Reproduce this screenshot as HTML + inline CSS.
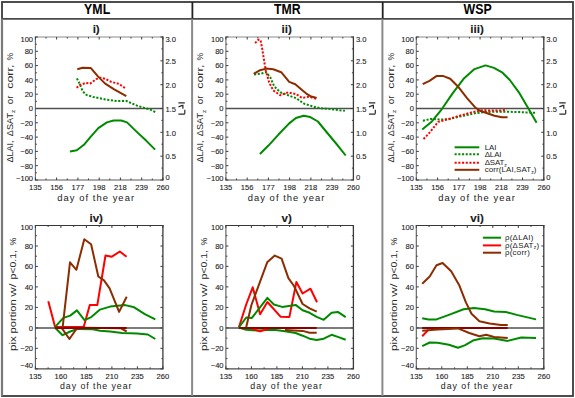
<!DOCTYPE html>
<html><head><meta charset="utf-8"><style>
html,body{margin:0;padding:0;background:#fff;width:575px;height:398px;overflow:hidden}
svg{display:block}
</style></head><body>
<svg width="575" height="398" viewBox="0 0 575 398" font-family='"Liberation Sans", sans-serif'>
<rect width="575" height="398" fill="#fff"/>
<rect x="2" y="2" width="571" height="394" fill="none" stroke="#3a3a3a" stroke-width="1.8"/>
<line x1="2" y1="18.8" x2="573" y2="18.8" stroke="#4a4a4a" stroke-width="1.8"/>
<line x1="192.4" y1="2" x2="192.4" y2="18.8" stroke="#222" stroke-width="1.8"/>
<line x1="192.1" y1="18.8" x2="192.1" y2="396" stroke="#8a8a8a" stroke-width="2"/>
<line x1="382.7" y1="2" x2="382.7" y2="18.8" stroke="#222" stroke-width="1.8"/>
<line x1="382.4" y1="18.8" x2="382.4" y2="396" stroke="#8a8a8a" stroke-width="2"/>
<line x1="2" y1="18.8" x2="2" y2="396" stroke="#7a7a7a" stroke-width="2.2"/>
<text x="84.10" y="14.2" font-size="14" font-weight="bold" textLength="26.1" lengthAdjust="spacingAndGlyphs" fill="#000">YML</text>
<text x="274.10" y="14.2" font-size="14" font-weight="bold" textLength="26.6" lengthAdjust="spacingAndGlyphs" fill="#000">TMR</text>
<text x="463.60" y="14.2" font-size="14" font-weight="bold" textLength="28.2" lengthAdjust="spacingAndGlyphs" fill="#000">WSP</text>
<g font-family='"Liberation Sans", sans-serif' fill="#1a1a1a" stroke="#1a1a1a" stroke-width="0.1">
<line x1="34.9" y1="37.0" x2="163.5" y2="37.0" stroke="#8a8a8a" stroke-width="1.0"/>
<line x1="35.4" y1="36.5" x2="35.4" y2="180.5" stroke="#6a6a6a" stroke-width="1.1"/>
<line x1="162.9" y1="36.5" x2="162.9" y2="180.5" stroke="#3a3a3a" stroke-width="1.3"/>
<line x1="34.9" y1="180.0" x2="163.5" y2="180.0" stroke="#5a5a5a" stroke-width="1.1"/>
<line x1="35.4" y1="180.0" x2="37.9" y2="180.0" stroke="#3c3c3c" stroke-width="1"/>
<text x="33.1" y="180.8" font-size="7.6" text-anchor="end" font-weight="normal" >&#8722;100</text>
<line x1="35.4" y1="172.8" x2="36.9" y2="172.8" stroke="#3c3c3c" stroke-width="1"/>
<line x1="35.4" y1="165.7" x2="37.9" y2="165.7" stroke="#3c3c3c" stroke-width="1"/>
<text x="33.1" y="168.5" font-size="7.6" text-anchor="end" font-weight="normal" >&#8722;80</text>
<line x1="35.4" y1="158.6" x2="36.9" y2="158.6" stroke="#3c3c3c" stroke-width="1"/>
<line x1="35.4" y1="151.4" x2="37.9" y2="151.4" stroke="#3c3c3c" stroke-width="1"/>
<text x="33.1" y="154.2" font-size="7.6" text-anchor="end" font-weight="normal" >&#8722;60</text>
<line x1="35.4" y1="144.2" x2="36.9" y2="144.2" stroke="#3c3c3c" stroke-width="1"/>
<line x1="35.4" y1="137.1" x2="37.9" y2="137.1" stroke="#3c3c3c" stroke-width="1"/>
<text x="33.1" y="139.9" font-size="7.6" text-anchor="end" font-weight="normal" >&#8722;40</text>
<line x1="35.4" y1="129.9" x2="36.9" y2="129.9" stroke="#3c3c3c" stroke-width="1"/>
<line x1="35.4" y1="122.8" x2="37.9" y2="122.8" stroke="#3c3c3c" stroke-width="1"/>
<text x="33.1" y="125.6" font-size="7.6" text-anchor="end" font-weight="normal" >&#8722;20</text>
<line x1="35.4" y1="115.6" x2="36.9" y2="115.6" stroke="#3c3c3c" stroke-width="1"/>
<line x1="35.4" y1="108.5" x2="37.9" y2="108.5" stroke="#3c3c3c" stroke-width="1"/>
<text x="33.1" y="111.3" font-size="7.6" text-anchor="end" font-weight="normal" >0</text>
<line x1="35.4" y1="101.3" x2="36.9" y2="101.3" stroke="#3c3c3c" stroke-width="1"/>
<line x1="35.4" y1="94.2" x2="37.9" y2="94.2" stroke="#3c3c3c" stroke-width="1"/>
<text x="33.1" y="97.0" font-size="7.6" text-anchor="end" font-weight="normal" >20</text>
<line x1="35.4" y1="87.0" x2="36.9" y2="87.0" stroke="#3c3c3c" stroke-width="1"/>
<line x1="35.4" y1="79.9" x2="37.9" y2="79.9" stroke="#3c3c3c" stroke-width="1"/>
<text x="33.1" y="82.7" font-size="7.6" text-anchor="end" font-weight="normal" >40</text>
<line x1="35.4" y1="72.8" x2="36.9" y2="72.8" stroke="#3c3c3c" stroke-width="1"/>
<line x1="35.4" y1="65.6" x2="37.9" y2="65.6" stroke="#3c3c3c" stroke-width="1"/>
<text x="33.1" y="68.4" font-size="7.6" text-anchor="end" font-weight="normal" >60</text>
<line x1="35.4" y1="58.5" x2="36.9" y2="58.5" stroke="#3c3c3c" stroke-width="1"/>
<line x1="35.4" y1="51.3" x2="37.9" y2="51.3" stroke="#3c3c3c" stroke-width="1"/>
<text x="33.1" y="54.1" font-size="7.6" text-anchor="end" font-weight="normal" >80</text>
<line x1="35.4" y1="44.2" x2="36.9" y2="44.2" stroke="#3c3c3c" stroke-width="1"/>
<line x1="35.4" y1="37.0" x2="37.9" y2="37.0" stroke="#3c3c3c" stroke-width="1"/>
<text x="33.1" y="41.6" font-size="7.6" text-anchor="end" font-weight="normal" >100</text>
<line x1="35.4" y1="180.0" x2="35.4" y2="177.5" stroke="#3c3c3c" stroke-width="1"/>
<line x1="35.4" y1="37.0" x2="35.4" y2="39.5" stroke="#3c3c3c" stroke-width="1"/>
<line x1="46.0" y1="180.0" x2="46.0" y2="178.5" stroke="#3c3c3c" stroke-width="1"/>
<line x1="46.0" y1="37.0" x2="46.0" y2="38.5" stroke="#3c3c3c" stroke-width="1"/>
<text x="35.4" y="190.3" font-size="7.6" text-anchor="middle" font-weight="normal" >135</text>
<line x1="56.6" y1="180.0" x2="56.6" y2="177.5" stroke="#3c3c3c" stroke-width="1"/>
<line x1="56.6" y1="37.0" x2="56.6" y2="39.5" stroke="#3c3c3c" stroke-width="1"/>
<line x1="67.3" y1="180.0" x2="67.3" y2="178.5" stroke="#3c3c3c" stroke-width="1"/>
<line x1="67.3" y1="37.0" x2="67.3" y2="38.5" stroke="#3c3c3c" stroke-width="1"/>
<text x="56.6" y="190.3" font-size="7.6" text-anchor="middle" font-weight="normal" >156</text>
<line x1="77.9" y1="180.0" x2="77.9" y2="177.5" stroke="#3c3c3c" stroke-width="1"/>
<line x1="77.9" y1="37.0" x2="77.9" y2="39.5" stroke="#3c3c3c" stroke-width="1"/>
<line x1="88.5" y1="180.0" x2="88.5" y2="178.5" stroke="#3c3c3c" stroke-width="1"/>
<line x1="88.5" y1="37.0" x2="88.5" y2="38.5" stroke="#3c3c3c" stroke-width="1"/>
<text x="77.9" y="190.3" font-size="7.6" text-anchor="middle" font-weight="normal" >177</text>
<line x1="99.2" y1="180.0" x2="99.2" y2="177.5" stroke="#3c3c3c" stroke-width="1"/>
<line x1="99.2" y1="37.0" x2="99.2" y2="39.5" stroke="#3c3c3c" stroke-width="1"/>
<line x1="109.8" y1="180.0" x2="109.8" y2="178.5" stroke="#3c3c3c" stroke-width="1"/>
<line x1="109.8" y1="37.0" x2="109.8" y2="38.5" stroke="#3c3c3c" stroke-width="1"/>
<text x="99.2" y="190.3" font-size="7.6" text-anchor="middle" font-weight="normal" >198</text>
<line x1="120.4" y1="180.0" x2="120.4" y2="177.5" stroke="#3c3c3c" stroke-width="1"/>
<line x1="120.4" y1="37.0" x2="120.4" y2="39.5" stroke="#3c3c3c" stroke-width="1"/>
<line x1="131.0" y1="180.0" x2="131.0" y2="178.5" stroke="#3c3c3c" stroke-width="1"/>
<line x1="131.0" y1="37.0" x2="131.0" y2="38.5" stroke="#3c3c3c" stroke-width="1"/>
<text x="120.4" y="190.3" font-size="7.6" text-anchor="middle" font-weight="normal" >218</text>
<line x1="141.7" y1="180.0" x2="141.7" y2="177.5" stroke="#3c3c3c" stroke-width="1"/>
<line x1="141.7" y1="37.0" x2="141.7" y2="39.5" stroke="#3c3c3c" stroke-width="1"/>
<line x1="152.3" y1="180.0" x2="152.3" y2="178.5" stroke="#3c3c3c" stroke-width="1"/>
<line x1="152.3" y1="37.0" x2="152.3" y2="38.5" stroke="#3c3c3c" stroke-width="1"/>
<text x="141.7" y="190.3" font-size="7.6" text-anchor="middle" font-weight="normal" >239</text>
<line x1="162.9" y1="180.0" x2="162.9" y2="177.5" stroke="#3c3c3c" stroke-width="1"/>
<line x1="162.9" y1="37.0" x2="162.9" y2="39.5" stroke="#3c3c3c" stroke-width="1"/>
<text x="162.9" y="190.3" font-size="7.6" text-anchor="middle" font-weight="normal" >260</text>
<line x1="35.4" y1="108.5" x2="162.9" y2="108.5" stroke="#505050" stroke-width="1.5"/>
<text x="96.2" y="200.8" font-size="9.4" text-anchor="middle" font-weight="normal" letter-spacing="1.05" stroke="none">day of the year</text>
<line x1="162.9" y1="180.0" x2="160.4" y2="180.0" stroke="#3c3c3c" stroke-width="1"/>
<text x="165.4" y="180.3" font-size="7.6" text-anchor="start" font-weight="normal" fill="#222">0</text>
<line x1="162.9" y1="168.1" x2="161.4" y2="168.1" stroke="#3c3c3c" stroke-width="1"/>
<line x1="162.9" y1="156.2" x2="160.4" y2="156.2" stroke="#3c3c3c" stroke-width="1"/>
<text x="165.4" y="159.4" font-size="7.6" text-anchor="start" font-weight="normal" fill="#222">0.5</text>
<line x1="162.9" y1="144.2" x2="161.4" y2="144.2" stroke="#3c3c3c" stroke-width="1"/>
<line x1="162.9" y1="132.3" x2="160.4" y2="132.3" stroke="#3c3c3c" stroke-width="1"/>
<text x="165.4" y="135.5" font-size="7.6" text-anchor="start" font-weight="normal" fill="#222">1.0</text>
<line x1="162.9" y1="120.4" x2="161.4" y2="120.4" stroke="#3c3c3c" stroke-width="1"/>
<line x1="162.9" y1="108.5" x2="160.4" y2="108.5" stroke="#3c3c3c" stroke-width="1"/>
<text x="165.4" y="111.7" font-size="7.6" text-anchor="start" font-weight="normal" fill="#222">1.5</text>
<line x1="162.9" y1="96.6" x2="161.4" y2="96.6" stroke="#3c3c3c" stroke-width="1"/>
<line x1="162.9" y1="84.7" x2="160.4" y2="84.7" stroke="#3c3c3c" stroke-width="1"/>
<text x="165.4" y="87.9" font-size="7.6" text-anchor="start" font-weight="normal" fill="#222">2.0</text>
<line x1="162.9" y1="72.8" x2="161.4" y2="72.8" stroke="#3c3c3c" stroke-width="1"/>
<line x1="162.9" y1="60.8" x2="160.4" y2="60.8" stroke="#3c3c3c" stroke-width="1"/>
<text x="165.4" y="64.0" font-size="7.6" text-anchor="start" font-weight="normal" fill="#222">2.5</text>
<line x1="162.9" y1="48.9" x2="161.4" y2="48.9" stroke="#3c3c3c" stroke-width="1"/>
<line x1="162.9" y1="37.0" x2="160.4" y2="37.0" stroke="#3c3c3c" stroke-width="1"/>
<text x="165.4" y="41.8" font-size="7.6" text-anchor="start" font-weight="normal" fill="#222">3.0</text>
<path d="M178.4,102.9H184.8M182.9,104.8V108.8M178.5,106.9L182.3,105.4M184.8,109.8V113.8M178.4,114.1H184.8" fill="none" stroke="#2a2a2a" stroke-width="1.2"/>
<text x="0" y="0" font-size="9.4" transform="translate(12.9,162.5) rotate(-90)" textLength="22.0" lengthAdjust="spacingAndGlyphs" stroke="none" fill="#2a2a2a">&#916;LAI,</text>
<text x="0" y="0" font-size="9.4" transform="translate(12.9,136.2) rotate(-90)" textLength="23.2" lengthAdjust="spacingAndGlyphs" stroke="none" fill="#2a2a2a">&#916;SAT</text>
<text x="0" y="0" font-size="9.6" transform="translate(12.9,104.2) rotate(-90)" textLength="8.7" lengthAdjust="spacingAndGlyphs" stroke="none" fill="#2a2a2a">or</text>
<text x="0" y="0" font-size="9.6" transform="translate(12.9,88.8) rotate(-90)" textLength="24.2" lengthAdjust="spacingAndGlyphs" stroke="none" fill="#2a2a2a">corr,</text>
<text x="0" y="0" font-size="9.6" transform="translate(12.9,60.6) rotate(-90)" textLength="7.6" lengthAdjust="spacingAndGlyphs" stroke="none" fill="#2a2a2a">%</text>
<text x="0" y="0" font-size="6.2" transform="translate(15.2,112.9) rotate(-90)" textLength="3.2" lengthAdjust="spacingAndGlyphs" stroke="none">z</text>
<text x="96.2" y="33.2" font-size="11.6" text-anchor="middle" font-weight="bold" >i)</text>
<line x1="34.9" y1="225.5" x2="163.5" y2="225.5" stroke="#383838" stroke-width="1.2"/>
<line x1="35.4" y1="225.0" x2="35.4" y2="369.3" stroke="#5a5a5a" stroke-width="1.1"/>
<line x1="162.9" y1="225.0" x2="162.9" y2="369.3" stroke="#3a3a3a" stroke-width="1.3"/>
<line x1="34.9" y1="368.8" x2="163.5" y2="368.8" stroke="#4a4a4a" stroke-width="1.2"/>
<line x1="35.4" y1="368.8" x2="37.9" y2="368.8" stroke="#3c3c3c" stroke-width="1"/>
<text x="33.1" y="368.4" font-size="7.6" text-anchor="end" font-weight="normal" >&#8722;40</text>
<line x1="35.4" y1="358.6" x2="36.9" y2="358.6" stroke="#3c3c3c" stroke-width="1"/>
<line x1="35.4" y1="348.3" x2="37.9" y2="348.3" stroke="#3c3c3c" stroke-width="1"/>
<text x="33.1" y="351.1" font-size="7.6" text-anchor="end" font-weight="normal" >&#8722;20</text>
<line x1="35.4" y1="338.1" x2="36.9" y2="338.1" stroke="#3c3c3c" stroke-width="1"/>
<line x1="35.4" y1="327.9" x2="37.9" y2="327.9" stroke="#3c3c3c" stroke-width="1"/>
<text x="33.1" y="330.7" font-size="7.6" text-anchor="end" font-weight="normal" >0</text>
<line x1="35.4" y1="317.6" x2="36.9" y2="317.6" stroke="#3c3c3c" stroke-width="1"/>
<line x1="35.4" y1="307.4" x2="37.9" y2="307.4" stroke="#3c3c3c" stroke-width="1"/>
<text x="33.1" y="310.2" font-size="7.6" text-anchor="end" font-weight="normal" >20</text>
<line x1="35.4" y1="297.1" x2="36.9" y2="297.1" stroke="#3c3c3c" stroke-width="1"/>
<line x1="35.4" y1="286.9" x2="37.9" y2="286.9" stroke="#3c3c3c" stroke-width="1"/>
<text x="33.1" y="289.7" font-size="7.6" text-anchor="end" font-weight="normal" >40</text>
<line x1="35.4" y1="276.7" x2="36.9" y2="276.7" stroke="#3c3c3c" stroke-width="1"/>
<line x1="35.4" y1="266.4" x2="37.9" y2="266.4" stroke="#3c3c3c" stroke-width="1"/>
<text x="33.1" y="269.2" font-size="7.6" text-anchor="end" font-weight="normal" >60</text>
<line x1="35.4" y1="256.2" x2="36.9" y2="256.2" stroke="#3c3c3c" stroke-width="1"/>
<line x1="35.4" y1="246.0" x2="37.9" y2="246.0" stroke="#3c3c3c" stroke-width="1"/>
<text x="33.1" y="248.8" font-size="7.6" text-anchor="end" font-weight="normal" >80</text>
<line x1="35.4" y1="235.7" x2="36.9" y2="235.7" stroke="#3c3c3c" stroke-width="1"/>
<line x1="35.4" y1="225.5" x2="37.9" y2="225.5" stroke="#3c3c3c" stroke-width="1"/>
<text x="33.1" y="230.1" font-size="7.6" text-anchor="end" font-weight="normal" >100</text>
<line x1="162.9" y1="368.8" x2="160.4" y2="368.8" stroke="#3c3c3c" stroke-width="1"/>
<line x1="162.9" y1="358.6" x2="161.4" y2="358.6" stroke="#3c3c3c" stroke-width="1"/>
<line x1="162.9" y1="348.3" x2="160.4" y2="348.3" stroke="#3c3c3c" stroke-width="1"/>
<line x1="162.9" y1="338.1" x2="161.4" y2="338.1" stroke="#3c3c3c" stroke-width="1"/>
<line x1="162.9" y1="327.9" x2="160.4" y2="327.9" stroke="#3c3c3c" stroke-width="1"/>
<line x1="162.9" y1="317.6" x2="161.4" y2="317.6" stroke="#3c3c3c" stroke-width="1"/>
<line x1="162.9" y1="307.4" x2="160.4" y2="307.4" stroke="#3c3c3c" stroke-width="1"/>
<line x1="162.9" y1="297.1" x2="161.4" y2="297.1" stroke="#3c3c3c" stroke-width="1"/>
<line x1="162.9" y1="286.9" x2="160.4" y2="286.9" stroke="#3c3c3c" stroke-width="1"/>
<line x1="162.9" y1="276.7" x2="161.4" y2="276.7" stroke="#3c3c3c" stroke-width="1"/>
<line x1="162.9" y1="266.4" x2="160.4" y2="266.4" stroke="#3c3c3c" stroke-width="1"/>
<line x1="162.9" y1="256.2" x2="161.4" y2="256.2" stroke="#3c3c3c" stroke-width="1"/>
<line x1="162.9" y1="246.0" x2="160.4" y2="246.0" stroke="#3c3c3c" stroke-width="1"/>
<line x1="162.9" y1="235.7" x2="161.4" y2="235.7" stroke="#3c3c3c" stroke-width="1"/>
<line x1="162.9" y1="225.5" x2="160.4" y2="225.5" stroke="#3c3c3c" stroke-width="1"/>
<line x1="35.4" y1="368.8" x2="35.4" y2="366.3" stroke="#3c3c3c" stroke-width="1"/>
<line x1="35.4" y1="225.5" x2="35.4" y2="228.0" stroke="#3c3c3c" stroke-width="1"/>
<line x1="48.1" y1="368.8" x2="48.1" y2="367.3" stroke="#3c3c3c" stroke-width="1"/>
<line x1="48.1" y1="225.5" x2="48.1" y2="227.0" stroke="#3c3c3c" stroke-width="1"/>
<text x="35.4" y="379.1" font-size="7.6" text-anchor="middle" font-weight="normal" >135</text>
<line x1="60.9" y1="368.8" x2="60.9" y2="366.3" stroke="#3c3c3c" stroke-width="1"/>
<line x1="60.9" y1="225.5" x2="60.9" y2="228.0" stroke="#3c3c3c" stroke-width="1"/>
<line x1="73.7" y1="368.8" x2="73.7" y2="367.3" stroke="#3c3c3c" stroke-width="1"/>
<line x1="73.7" y1="225.5" x2="73.7" y2="227.0" stroke="#3c3c3c" stroke-width="1"/>
<text x="60.9" y="379.1" font-size="7.6" text-anchor="middle" font-weight="normal" >160</text>
<line x1="86.4" y1="368.8" x2="86.4" y2="366.3" stroke="#3c3c3c" stroke-width="1"/>
<line x1="86.4" y1="225.5" x2="86.4" y2="228.0" stroke="#3c3c3c" stroke-width="1"/>
<line x1="99.2" y1="368.8" x2="99.2" y2="367.3" stroke="#3c3c3c" stroke-width="1"/>
<line x1="99.2" y1="225.5" x2="99.2" y2="227.0" stroke="#3c3c3c" stroke-width="1"/>
<text x="86.4" y="379.1" font-size="7.6" text-anchor="middle" font-weight="normal" >185</text>
<line x1="111.9" y1="368.8" x2="111.9" y2="366.3" stroke="#3c3c3c" stroke-width="1"/>
<line x1="111.9" y1="225.5" x2="111.9" y2="228.0" stroke="#3c3c3c" stroke-width="1"/>
<line x1="124.7" y1="368.8" x2="124.7" y2="367.3" stroke="#3c3c3c" stroke-width="1"/>
<line x1="124.7" y1="225.5" x2="124.7" y2="227.0" stroke="#3c3c3c" stroke-width="1"/>
<text x="111.9" y="379.1" font-size="7.6" text-anchor="middle" font-weight="normal" >210</text>
<line x1="137.4" y1="368.8" x2="137.4" y2="366.3" stroke="#3c3c3c" stroke-width="1"/>
<line x1="137.4" y1="225.5" x2="137.4" y2="228.0" stroke="#3c3c3c" stroke-width="1"/>
<line x1="150.2" y1="368.8" x2="150.2" y2="367.3" stroke="#3c3c3c" stroke-width="1"/>
<line x1="150.2" y1="225.5" x2="150.2" y2="227.0" stroke="#3c3c3c" stroke-width="1"/>
<text x="137.4" y="379.1" font-size="7.6" text-anchor="middle" font-weight="normal" >235</text>
<line x1="162.9" y1="368.8" x2="162.9" y2="366.3" stroke="#3c3c3c" stroke-width="1"/>
<line x1="162.9" y1="225.5" x2="162.9" y2="228.0" stroke="#3c3c3c" stroke-width="1"/>
<text x="162.9" y="379.1" font-size="7.6" text-anchor="middle" font-weight="normal" >260</text>
<line x1="35.4" y1="327.9" x2="162.9" y2="327.9" stroke="#505050" stroke-width="1.5"/>
<text x="96.2" y="389.3" font-size="8.8" text-anchor="middle" font-weight="normal" letter-spacing="0.95" stroke="none">day of the year</text>
<text x="0" y="0" font-size="9.6" transform="translate(16.0,351.0) rotate(-90)" textLength="14.8" lengthAdjust="spacingAndGlyphs" stroke="none" fill="#2a2a2a">pix</text>
<text x="0" y="0" font-size="9.6" transform="translate(16.0,333.5) rotate(-90)" textLength="34.2" lengthAdjust="spacingAndGlyphs" stroke="none" fill="#2a2a2a">portion</text>
<text x="0" y="0" font-size="9.6" transform="translate(16.0,296.8) rotate(-90)" textLength="13.2" lengthAdjust="spacingAndGlyphs" stroke="none" fill="#2a2a2a">w/</text>
<text x="0" y="0" font-size="9.6" transform="translate(16.0,279.6) rotate(-90)" textLength="29.6" lengthAdjust="spacingAndGlyphs" stroke="none" fill="#2a2a2a">p&lt;0.1,</text>
<text x="0" y="0" font-size="9.6" transform="translate(16.0,245.4) rotate(-90)" textLength="7.8" lengthAdjust="spacingAndGlyphs" stroke="none" fill="#2a2a2a">%</text>
<text x="96.2" y="221.7" font-size="11.6" text-anchor="middle" font-weight="bold" >iv)</text>
<line x1="225.4" y1="37.0" x2="354.0" y2="37.0" stroke="#8a8a8a" stroke-width="1.0"/>
<line x1="225.9" y1="36.5" x2="225.9" y2="180.5" stroke="#6a6a6a" stroke-width="1.1"/>
<line x1="353.4" y1="36.5" x2="353.4" y2="180.5" stroke="#3a3a3a" stroke-width="1.3"/>
<line x1="225.4" y1="180.0" x2="354.0" y2="180.0" stroke="#5a5a5a" stroke-width="1.1"/>
<line x1="225.9" y1="180.0" x2="228.4" y2="180.0" stroke="#3c3c3c" stroke-width="1"/>
<text x="223.6" y="180.8" font-size="7.6" text-anchor="end" font-weight="normal" >&#8722;100</text>
<line x1="225.9" y1="172.8" x2="227.4" y2="172.8" stroke="#3c3c3c" stroke-width="1"/>
<line x1="225.9" y1="165.7" x2="228.4" y2="165.7" stroke="#3c3c3c" stroke-width="1"/>
<text x="223.6" y="168.5" font-size="7.6" text-anchor="end" font-weight="normal" >&#8722;80</text>
<line x1="225.9" y1="158.6" x2="227.4" y2="158.6" stroke="#3c3c3c" stroke-width="1"/>
<line x1="225.9" y1="151.4" x2="228.4" y2="151.4" stroke="#3c3c3c" stroke-width="1"/>
<text x="223.6" y="154.2" font-size="7.6" text-anchor="end" font-weight="normal" >&#8722;60</text>
<line x1="225.9" y1="144.2" x2="227.4" y2="144.2" stroke="#3c3c3c" stroke-width="1"/>
<line x1="225.9" y1="137.1" x2="228.4" y2="137.1" stroke="#3c3c3c" stroke-width="1"/>
<text x="223.6" y="139.9" font-size="7.6" text-anchor="end" font-weight="normal" >&#8722;40</text>
<line x1="225.9" y1="129.9" x2="227.4" y2="129.9" stroke="#3c3c3c" stroke-width="1"/>
<line x1="225.9" y1="122.8" x2="228.4" y2="122.8" stroke="#3c3c3c" stroke-width="1"/>
<text x="223.6" y="125.6" font-size="7.6" text-anchor="end" font-weight="normal" >&#8722;20</text>
<line x1="225.9" y1="115.6" x2="227.4" y2="115.6" stroke="#3c3c3c" stroke-width="1"/>
<line x1="225.9" y1="108.5" x2="228.4" y2="108.5" stroke="#3c3c3c" stroke-width="1"/>
<text x="223.6" y="111.3" font-size="7.6" text-anchor="end" font-weight="normal" >0</text>
<line x1="225.9" y1="101.3" x2="227.4" y2="101.3" stroke="#3c3c3c" stroke-width="1"/>
<line x1="225.9" y1="94.2" x2="228.4" y2="94.2" stroke="#3c3c3c" stroke-width="1"/>
<text x="223.6" y="97.0" font-size="7.6" text-anchor="end" font-weight="normal" >20</text>
<line x1="225.9" y1="87.0" x2="227.4" y2="87.0" stroke="#3c3c3c" stroke-width="1"/>
<line x1="225.9" y1="79.9" x2="228.4" y2="79.9" stroke="#3c3c3c" stroke-width="1"/>
<text x="223.6" y="82.7" font-size="7.6" text-anchor="end" font-weight="normal" >40</text>
<line x1="225.9" y1="72.8" x2="227.4" y2="72.8" stroke="#3c3c3c" stroke-width="1"/>
<line x1="225.9" y1="65.6" x2="228.4" y2="65.6" stroke="#3c3c3c" stroke-width="1"/>
<text x="223.6" y="68.4" font-size="7.6" text-anchor="end" font-weight="normal" >60</text>
<line x1="225.9" y1="58.5" x2="227.4" y2="58.5" stroke="#3c3c3c" stroke-width="1"/>
<line x1="225.9" y1="51.3" x2="228.4" y2="51.3" stroke="#3c3c3c" stroke-width="1"/>
<text x="223.6" y="54.1" font-size="7.6" text-anchor="end" font-weight="normal" >80</text>
<line x1="225.9" y1="44.2" x2="227.4" y2="44.2" stroke="#3c3c3c" stroke-width="1"/>
<line x1="225.9" y1="37.0" x2="228.4" y2="37.0" stroke="#3c3c3c" stroke-width="1"/>
<text x="223.6" y="41.6" font-size="7.6" text-anchor="end" font-weight="normal" >100</text>
<line x1="225.9" y1="180.0" x2="225.9" y2="177.5" stroke="#3c3c3c" stroke-width="1"/>
<line x1="225.9" y1="37.0" x2="225.9" y2="39.5" stroke="#3c3c3c" stroke-width="1"/>
<line x1="236.5" y1="180.0" x2="236.5" y2="178.5" stroke="#3c3c3c" stroke-width="1"/>
<line x1="236.5" y1="37.0" x2="236.5" y2="38.5" stroke="#3c3c3c" stroke-width="1"/>
<text x="225.9" y="190.3" font-size="7.6" text-anchor="middle" font-weight="normal" >135</text>
<line x1="247.2" y1="180.0" x2="247.2" y2="177.5" stroke="#3c3c3c" stroke-width="1"/>
<line x1="247.2" y1="37.0" x2="247.2" y2="39.5" stroke="#3c3c3c" stroke-width="1"/>
<line x1="257.8" y1="180.0" x2="257.8" y2="178.5" stroke="#3c3c3c" stroke-width="1"/>
<line x1="257.8" y1="37.0" x2="257.8" y2="38.5" stroke="#3c3c3c" stroke-width="1"/>
<text x="247.2" y="190.3" font-size="7.6" text-anchor="middle" font-weight="normal" >156</text>
<line x1="268.4" y1="180.0" x2="268.4" y2="177.5" stroke="#3c3c3c" stroke-width="1"/>
<line x1="268.4" y1="37.0" x2="268.4" y2="39.5" stroke="#3c3c3c" stroke-width="1"/>
<line x1="279.0" y1="180.0" x2="279.0" y2="178.5" stroke="#3c3c3c" stroke-width="1"/>
<line x1="279.0" y1="37.0" x2="279.0" y2="38.5" stroke="#3c3c3c" stroke-width="1"/>
<text x="268.4" y="190.3" font-size="7.6" text-anchor="middle" font-weight="normal" >177</text>
<line x1="289.6" y1="180.0" x2="289.6" y2="177.5" stroke="#3c3c3c" stroke-width="1"/>
<line x1="289.6" y1="37.0" x2="289.6" y2="39.5" stroke="#3c3c3c" stroke-width="1"/>
<line x1="300.3" y1="180.0" x2="300.3" y2="178.5" stroke="#3c3c3c" stroke-width="1"/>
<line x1="300.3" y1="37.0" x2="300.3" y2="38.5" stroke="#3c3c3c" stroke-width="1"/>
<text x="289.6" y="190.3" font-size="7.6" text-anchor="middle" font-weight="normal" >198</text>
<line x1="310.9" y1="180.0" x2="310.9" y2="177.5" stroke="#3c3c3c" stroke-width="1"/>
<line x1="310.9" y1="37.0" x2="310.9" y2="39.5" stroke="#3c3c3c" stroke-width="1"/>
<line x1="321.5" y1="180.0" x2="321.5" y2="178.5" stroke="#3c3c3c" stroke-width="1"/>
<line x1="321.5" y1="37.0" x2="321.5" y2="38.5" stroke="#3c3c3c" stroke-width="1"/>
<text x="310.9" y="190.3" font-size="7.6" text-anchor="middle" font-weight="normal" >218</text>
<line x1="332.1" y1="180.0" x2="332.1" y2="177.5" stroke="#3c3c3c" stroke-width="1"/>
<line x1="332.1" y1="37.0" x2="332.1" y2="39.5" stroke="#3c3c3c" stroke-width="1"/>
<line x1="342.8" y1="180.0" x2="342.8" y2="178.5" stroke="#3c3c3c" stroke-width="1"/>
<line x1="342.8" y1="37.0" x2="342.8" y2="38.5" stroke="#3c3c3c" stroke-width="1"/>
<text x="332.1" y="190.3" font-size="7.6" text-anchor="middle" font-weight="normal" >239</text>
<line x1="353.4" y1="180.0" x2="353.4" y2="177.5" stroke="#3c3c3c" stroke-width="1"/>
<line x1="353.4" y1="37.0" x2="353.4" y2="39.5" stroke="#3c3c3c" stroke-width="1"/>
<text x="353.4" y="190.3" font-size="7.6" text-anchor="middle" font-weight="normal" >260</text>
<line x1="225.9" y1="108.5" x2="353.4" y2="108.5" stroke="#505050" stroke-width="1.5"/>
<text x="286.6" y="200.8" font-size="9.4" text-anchor="middle" font-weight="normal" letter-spacing="1.05" stroke="none">day of the year</text>
<line x1="353.4" y1="180.0" x2="350.9" y2="180.0" stroke="#3c3c3c" stroke-width="1"/>
<text x="355.9" y="180.3" font-size="7.6" text-anchor="start" font-weight="normal" fill="#222">0</text>
<line x1="353.4" y1="168.1" x2="351.9" y2="168.1" stroke="#3c3c3c" stroke-width="1"/>
<line x1="353.4" y1="156.2" x2="350.9" y2="156.2" stroke="#3c3c3c" stroke-width="1"/>
<text x="355.9" y="159.4" font-size="7.6" text-anchor="start" font-weight="normal" fill="#222">0.5</text>
<line x1="353.4" y1="144.2" x2="351.9" y2="144.2" stroke="#3c3c3c" stroke-width="1"/>
<line x1="353.4" y1="132.3" x2="350.9" y2="132.3" stroke="#3c3c3c" stroke-width="1"/>
<text x="355.9" y="135.5" font-size="7.6" text-anchor="start" font-weight="normal" fill="#222">1.0</text>
<line x1="353.4" y1="120.4" x2="351.9" y2="120.4" stroke="#3c3c3c" stroke-width="1"/>
<line x1="353.4" y1="108.5" x2="350.9" y2="108.5" stroke="#3c3c3c" stroke-width="1"/>
<text x="355.9" y="111.7" font-size="7.6" text-anchor="start" font-weight="normal" fill="#222">1.5</text>
<line x1="353.4" y1="96.6" x2="351.9" y2="96.6" stroke="#3c3c3c" stroke-width="1"/>
<line x1="353.4" y1="84.7" x2="350.9" y2="84.7" stroke="#3c3c3c" stroke-width="1"/>
<text x="355.9" y="87.9" font-size="7.6" text-anchor="start" font-weight="normal" fill="#222">2.0</text>
<line x1="353.4" y1="72.8" x2="351.9" y2="72.8" stroke="#3c3c3c" stroke-width="1"/>
<line x1="353.4" y1="60.8" x2="350.9" y2="60.8" stroke="#3c3c3c" stroke-width="1"/>
<text x="355.9" y="64.0" font-size="7.6" text-anchor="start" font-weight="normal" fill="#222">2.5</text>
<line x1="353.4" y1="48.9" x2="351.9" y2="48.9" stroke="#3c3c3c" stroke-width="1"/>
<line x1="353.4" y1="37.0" x2="350.9" y2="37.0" stroke="#3c3c3c" stroke-width="1"/>
<text x="355.9" y="41.8" font-size="7.6" text-anchor="start" font-weight="normal" fill="#222">3.0</text>
<path d="M368.9,102.9H375.3M373.4,104.8V108.8M369.0,106.9L372.8,105.4M375.3,109.8V113.8M368.9,114.1H375.3" fill="none" stroke="#2a2a2a" stroke-width="1.2"/>
<text x="0" y="0" font-size="9.4" transform="translate(203.4,162.5) rotate(-90)" textLength="22.0" lengthAdjust="spacingAndGlyphs" stroke="none" fill="#2a2a2a">&#916;LAI,</text>
<text x="0" y="0" font-size="9.4" transform="translate(203.4,136.2) rotate(-90)" textLength="23.2" lengthAdjust="spacingAndGlyphs" stroke="none" fill="#2a2a2a">&#916;SAT</text>
<text x="0" y="0" font-size="9.6" transform="translate(203.4,104.2) rotate(-90)" textLength="8.7" lengthAdjust="spacingAndGlyphs" stroke="none" fill="#2a2a2a">or</text>
<text x="0" y="0" font-size="9.6" transform="translate(203.4,88.8) rotate(-90)" textLength="24.2" lengthAdjust="spacingAndGlyphs" stroke="none" fill="#2a2a2a">corr,</text>
<text x="0" y="0" font-size="9.6" transform="translate(203.4,60.6) rotate(-90)" textLength="7.6" lengthAdjust="spacingAndGlyphs" stroke="none" fill="#2a2a2a">%</text>
<text x="0" y="0" font-size="6.2" transform="translate(205.7,112.9) rotate(-90)" textLength="3.2" lengthAdjust="spacingAndGlyphs" stroke="none">z</text>
<text x="286.6" y="33.2" font-size="11.6" text-anchor="middle" font-weight="bold" >ii)</text>
<line x1="225.4" y1="225.5" x2="354.0" y2="225.5" stroke="#383838" stroke-width="1.2"/>
<line x1="225.9" y1="225.0" x2="225.9" y2="369.3" stroke="#5a5a5a" stroke-width="1.1"/>
<line x1="353.4" y1="225.0" x2="353.4" y2="369.3" stroke="#3a3a3a" stroke-width="1.3"/>
<line x1="225.4" y1="368.8" x2="354.0" y2="368.8" stroke="#4a4a4a" stroke-width="1.2"/>
<line x1="225.9" y1="368.8" x2="228.4" y2="368.8" stroke="#3c3c3c" stroke-width="1"/>
<text x="223.6" y="368.4" font-size="7.6" text-anchor="end" font-weight="normal" >&#8722;40</text>
<line x1="225.9" y1="358.6" x2="227.4" y2="358.6" stroke="#3c3c3c" stroke-width="1"/>
<line x1="225.9" y1="348.3" x2="228.4" y2="348.3" stroke="#3c3c3c" stroke-width="1"/>
<text x="223.6" y="351.1" font-size="7.6" text-anchor="end" font-weight="normal" >&#8722;20</text>
<line x1="225.9" y1="338.1" x2="227.4" y2="338.1" stroke="#3c3c3c" stroke-width="1"/>
<line x1="225.9" y1="327.9" x2="228.4" y2="327.9" stroke="#3c3c3c" stroke-width="1"/>
<text x="223.6" y="330.7" font-size="7.6" text-anchor="end" font-weight="normal" >0</text>
<line x1="225.9" y1="317.6" x2="227.4" y2="317.6" stroke="#3c3c3c" stroke-width="1"/>
<line x1="225.9" y1="307.4" x2="228.4" y2="307.4" stroke="#3c3c3c" stroke-width="1"/>
<text x="223.6" y="310.2" font-size="7.6" text-anchor="end" font-weight="normal" >20</text>
<line x1="225.9" y1="297.1" x2="227.4" y2="297.1" stroke="#3c3c3c" stroke-width="1"/>
<line x1="225.9" y1="286.9" x2="228.4" y2="286.9" stroke="#3c3c3c" stroke-width="1"/>
<text x="223.6" y="289.7" font-size="7.6" text-anchor="end" font-weight="normal" >40</text>
<line x1="225.9" y1="276.7" x2="227.4" y2="276.7" stroke="#3c3c3c" stroke-width="1"/>
<line x1="225.9" y1="266.4" x2="228.4" y2="266.4" stroke="#3c3c3c" stroke-width="1"/>
<text x="223.6" y="269.2" font-size="7.6" text-anchor="end" font-weight="normal" >60</text>
<line x1="225.9" y1="256.2" x2="227.4" y2="256.2" stroke="#3c3c3c" stroke-width="1"/>
<line x1="225.9" y1="246.0" x2="228.4" y2="246.0" stroke="#3c3c3c" stroke-width="1"/>
<text x="223.6" y="248.8" font-size="7.6" text-anchor="end" font-weight="normal" >80</text>
<line x1="225.9" y1="235.7" x2="227.4" y2="235.7" stroke="#3c3c3c" stroke-width="1"/>
<line x1="225.9" y1="225.5" x2="228.4" y2="225.5" stroke="#3c3c3c" stroke-width="1"/>
<text x="223.6" y="230.1" font-size="7.6" text-anchor="end" font-weight="normal" >100</text>
<line x1="353.4" y1="368.8" x2="350.9" y2="368.8" stroke="#3c3c3c" stroke-width="1"/>
<line x1="353.4" y1="358.6" x2="351.9" y2="358.6" stroke="#3c3c3c" stroke-width="1"/>
<line x1="353.4" y1="348.3" x2="350.9" y2="348.3" stroke="#3c3c3c" stroke-width="1"/>
<line x1="353.4" y1="338.1" x2="351.9" y2="338.1" stroke="#3c3c3c" stroke-width="1"/>
<line x1="353.4" y1="327.9" x2="350.9" y2="327.9" stroke="#3c3c3c" stroke-width="1"/>
<line x1="353.4" y1="317.6" x2="351.9" y2="317.6" stroke="#3c3c3c" stroke-width="1"/>
<line x1="353.4" y1="307.4" x2="350.9" y2="307.4" stroke="#3c3c3c" stroke-width="1"/>
<line x1="353.4" y1="297.1" x2="351.9" y2="297.1" stroke="#3c3c3c" stroke-width="1"/>
<line x1="353.4" y1="286.9" x2="350.9" y2="286.9" stroke="#3c3c3c" stroke-width="1"/>
<line x1="353.4" y1="276.7" x2="351.9" y2="276.7" stroke="#3c3c3c" stroke-width="1"/>
<line x1="353.4" y1="266.4" x2="350.9" y2="266.4" stroke="#3c3c3c" stroke-width="1"/>
<line x1="353.4" y1="256.2" x2="351.9" y2="256.2" stroke="#3c3c3c" stroke-width="1"/>
<line x1="353.4" y1="246.0" x2="350.9" y2="246.0" stroke="#3c3c3c" stroke-width="1"/>
<line x1="353.4" y1="235.7" x2="351.9" y2="235.7" stroke="#3c3c3c" stroke-width="1"/>
<line x1="353.4" y1="225.5" x2="350.9" y2="225.5" stroke="#3c3c3c" stroke-width="1"/>
<line x1="225.9" y1="368.8" x2="225.9" y2="366.3" stroke="#3c3c3c" stroke-width="1"/>
<line x1="225.9" y1="225.5" x2="225.9" y2="228.0" stroke="#3c3c3c" stroke-width="1"/>
<line x1="238.7" y1="368.8" x2="238.7" y2="367.3" stroke="#3c3c3c" stroke-width="1"/>
<line x1="238.7" y1="225.5" x2="238.7" y2="227.0" stroke="#3c3c3c" stroke-width="1"/>
<text x="225.9" y="379.1" font-size="7.6" text-anchor="middle" font-weight="normal" >135</text>
<line x1="251.4" y1="368.8" x2="251.4" y2="366.3" stroke="#3c3c3c" stroke-width="1"/>
<line x1="251.4" y1="225.5" x2="251.4" y2="228.0" stroke="#3c3c3c" stroke-width="1"/>
<line x1="264.1" y1="368.8" x2="264.1" y2="367.3" stroke="#3c3c3c" stroke-width="1"/>
<line x1="264.1" y1="225.5" x2="264.1" y2="227.0" stroke="#3c3c3c" stroke-width="1"/>
<text x="251.4" y="379.1" font-size="7.6" text-anchor="middle" font-weight="normal" >160</text>
<line x1="276.9" y1="368.8" x2="276.9" y2="366.3" stroke="#3c3c3c" stroke-width="1"/>
<line x1="276.9" y1="225.5" x2="276.9" y2="228.0" stroke="#3c3c3c" stroke-width="1"/>
<line x1="289.6" y1="368.8" x2="289.6" y2="367.3" stroke="#3c3c3c" stroke-width="1"/>
<line x1="289.6" y1="225.5" x2="289.6" y2="227.0" stroke="#3c3c3c" stroke-width="1"/>
<text x="276.9" y="379.1" font-size="7.6" text-anchor="middle" font-weight="normal" >185</text>
<line x1="302.4" y1="368.8" x2="302.4" y2="366.3" stroke="#3c3c3c" stroke-width="1"/>
<line x1="302.4" y1="225.5" x2="302.4" y2="228.0" stroke="#3c3c3c" stroke-width="1"/>
<line x1="315.1" y1="368.8" x2="315.1" y2="367.3" stroke="#3c3c3c" stroke-width="1"/>
<line x1="315.1" y1="225.5" x2="315.1" y2="227.0" stroke="#3c3c3c" stroke-width="1"/>
<text x="302.4" y="379.1" font-size="7.6" text-anchor="middle" font-weight="normal" >210</text>
<line x1="327.9" y1="368.8" x2="327.9" y2="366.3" stroke="#3c3c3c" stroke-width="1"/>
<line x1="327.9" y1="225.5" x2="327.9" y2="228.0" stroke="#3c3c3c" stroke-width="1"/>
<line x1="340.6" y1="368.8" x2="340.6" y2="367.3" stroke="#3c3c3c" stroke-width="1"/>
<line x1="340.6" y1="225.5" x2="340.6" y2="227.0" stroke="#3c3c3c" stroke-width="1"/>
<text x="327.9" y="379.1" font-size="7.6" text-anchor="middle" font-weight="normal" >235</text>
<line x1="353.4" y1="368.8" x2="353.4" y2="366.3" stroke="#3c3c3c" stroke-width="1"/>
<line x1="353.4" y1="225.5" x2="353.4" y2="228.0" stroke="#3c3c3c" stroke-width="1"/>
<text x="353.4" y="379.1" font-size="7.6" text-anchor="middle" font-weight="normal" >260</text>
<line x1="225.9" y1="327.9" x2="353.4" y2="327.9" stroke="#505050" stroke-width="1.5"/>
<text x="286.6" y="389.3" font-size="8.8" text-anchor="middle" font-weight="normal" letter-spacing="0.95" stroke="none">day of the year</text>
<text x="0" y="0" font-size="9.6" transform="translate(206.5,351.0) rotate(-90)" textLength="14.8" lengthAdjust="spacingAndGlyphs" stroke="none" fill="#2a2a2a">pix</text>
<text x="0" y="0" font-size="9.6" transform="translate(206.5,333.5) rotate(-90)" textLength="34.2" lengthAdjust="spacingAndGlyphs" stroke="none" fill="#2a2a2a">portion</text>
<text x="0" y="0" font-size="9.6" transform="translate(206.5,296.8) rotate(-90)" textLength="13.2" lengthAdjust="spacingAndGlyphs" stroke="none" fill="#2a2a2a">w/</text>
<text x="0" y="0" font-size="9.6" transform="translate(206.5,279.6) rotate(-90)" textLength="29.6" lengthAdjust="spacingAndGlyphs" stroke="none" fill="#2a2a2a">p&lt;0.1,</text>
<text x="0" y="0" font-size="9.6" transform="translate(206.5,245.4) rotate(-90)" textLength="7.8" lengthAdjust="spacingAndGlyphs" stroke="none" fill="#2a2a2a">%</text>
<text x="286.6" y="221.7" font-size="11.6" text-anchor="middle" font-weight="bold" >v)</text>
<line x1="415.8" y1="37.0" x2="544.4" y2="37.0" stroke="#8a8a8a" stroke-width="1.0"/>
<line x1="416.3" y1="36.5" x2="416.3" y2="180.5" stroke="#6a6a6a" stroke-width="1.1"/>
<line x1="543.8" y1="36.5" x2="543.8" y2="180.5" stroke="#3a3a3a" stroke-width="1.3"/>
<line x1="415.8" y1="180.0" x2="544.4" y2="180.0" stroke="#5a5a5a" stroke-width="1.1"/>
<line x1="416.3" y1="180.0" x2="418.8" y2="180.0" stroke="#3c3c3c" stroke-width="1"/>
<text x="414.0" y="180.8" font-size="7.6" text-anchor="end" font-weight="normal" >&#8722;100</text>
<line x1="416.3" y1="172.8" x2="417.8" y2="172.8" stroke="#3c3c3c" stroke-width="1"/>
<line x1="416.3" y1="165.7" x2="418.8" y2="165.7" stroke="#3c3c3c" stroke-width="1"/>
<text x="414.0" y="168.5" font-size="7.6" text-anchor="end" font-weight="normal" >&#8722;80</text>
<line x1="416.3" y1="158.6" x2="417.8" y2="158.6" stroke="#3c3c3c" stroke-width="1"/>
<line x1="416.3" y1="151.4" x2="418.8" y2="151.4" stroke="#3c3c3c" stroke-width="1"/>
<text x="414.0" y="154.2" font-size="7.6" text-anchor="end" font-weight="normal" >&#8722;60</text>
<line x1="416.3" y1="144.2" x2="417.8" y2="144.2" stroke="#3c3c3c" stroke-width="1"/>
<line x1="416.3" y1="137.1" x2="418.8" y2="137.1" stroke="#3c3c3c" stroke-width="1"/>
<text x="414.0" y="139.9" font-size="7.6" text-anchor="end" font-weight="normal" >&#8722;40</text>
<line x1="416.3" y1="129.9" x2="417.8" y2="129.9" stroke="#3c3c3c" stroke-width="1"/>
<line x1="416.3" y1="122.8" x2="418.8" y2="122.8" stroke="#3c3c3c" stroke-width="1"/>
<text x="414.0" y="125.6" font-size="7.6" text-anchor="end" font-weight="normal" >&#8722;20</text>
<line x1="416.3" y1="115.6" x2="417.8" y2="115.6" stroke="#3c3c3c" stroke-width="1"/>
<line x1="416.3" y1="108.5" x2="418.8" y2="108.5" stroke="#3c3c3c" stroke-width="1"/>
<text x="414.0" y="111.3" font-size="7.6" text-anchor="end" font-weight="normal" >0</text>
<line x1="416.3" y1="101.3" x2="417.8" y2="101.3" stroke="#3c3c3c" stroke-width="1"/>
<line x1="416.3" y1="94.2" x2="418.8" y2="94.2" stroke="#3c3c3c" stroke-width="1"/>
<text x="414.0" y="97.0" font-size="7.6" text-anchor="end" font-weight="normal" >20</text>
<line x1="416.3" y1="87.0" x2="417.8" y2="87.0" stroke="#3c3c3c" stroke-width="1"/>
<line x1="416.3" y1="79.9" x2="418.8" y2="79.9" stroke="#3c3c3c" stroke-width="1"/>
<text x="414.0" y="82.7" font-size="7.6" text-anchor="end" font-weight="normal" >40</text>
<line x1="416.3" y1="72.8" x2="417.8" y2="72.8" stroke="#3c3c3c" stroke-width="1"/>
<line x1="416.3" y1="65.6" x2="418.8" y2="65.6" stroke="#3c3c3c" stroke-width="1"/>
<text x="414.0" y="68.4" font-size="7.6" text-anchor="end" font-weight="normal" >60</text>
<line x1="416.3" y1="58.5" x2="417.8" y2="58.5" stroke="#3c3c3c" stroke-width="1"/>
<line x1="416.3" y1="51.3" x2="418.8" y2="51.3" stroke="#3c3c3c" stroke-width="1"/>
<text x="414.0" y="54.1" font-size="7.6" text-anchor="end" font-weight="normal" >80</text>
<line x1="416.3" y1="44.2" x2="417.8" y2="44.2" stroke="#3c3c3c" stroke-width="1"/>
<line x1="416.3" y1="37.0" x2="418.8" y2="37.0" stroke="#3c3c3c" stroke-width="1"/>
<text x="414.0" y="41.6" font-size="7.6" text-anchor="end" font-weight="normal" >100</text>
<line x1="416.3" y1="180.0" x2="416.3" y2="177.5" stroke="#3c3c3c" stroke-width="1"/>
<line x1="416.3" y1="37.0" x2="416.3" y2="39.5" stroke="#3c3c3c" stroke-width="1"/>
<line x1="426.9" y1="180.0" x2="426.9" y2="178.5" stroke="#3c3c3c" stroke-width="1"/>
<line x1="426.9" y1="37.0" x2="426.9" y2="38.5" stroke="#3c3c3c" stroke-width="1"/>
<text x="416.3" y="190.3" font-size="7.6" text-anchor="middle" font-weight="normal" >135</text>
<line x1="437.6" y1="180.0" x2="437.6" y2="177.5" stroke="#3c3c3c" stroke-width="1"/>
<line x1="437.6" y1="37.0" x2="437.6" y2="39.5" stroke="#3c3c3c" stroke-width="1"/>
<line x1="448.2" y1="180.0" x2="448.2" y2="178.5" stroke="#3c3c3c" stroke-width="1"/>
<line x1="448.2" y1="37.0" x2="448.2" y2="38.5" stroke="#3c3c3c" stroke-width="1"/>
<text x="437.6" y="190.3" font-size="7.6" text-anchor="middle" font-weight="normal" >156</text>
<line x1="458.8" y1="180.0" x2="458.8" y2="177.5" stroke="#3c3c3c" stroke-width="1"/>
<line x1="458.8" y1="37.0" x2="458.8" y2="39.5" stroke="#3c3c3c" stroke-width="1"/>
<line x1="469.4" y1="180.0" x2="469.4" y2="178.5" stroke="#3c3c3c" stroke-width="1"/>
<line x1="469.4" y1="37.0" x2="469.4" y2="38.5" stroke="#3c3c3c" stroke-width="1"/>
<text x="458.8" y="190.3" font-size="7.6" text-anchor="middle" font-weight="normal" >177</text>
<line x1="480.1" y1="180.0" x2="480.1" y2="177.5" stroke="#3c3c3c" stroke-width="1"/>
<line x1="480.1" y1="37.0" x2="480.1" y2="39.5" stroke="#3c3c3c" stroke-width="1"/>
<line x1="490.7" y1="180.0" x2="490.7" y2="178.5" stroke="#3c3c3c" stroke-width="1"/>
<line x1="490.7" y1="37.0" x2="490.7" y2="38.5" stroke="#3c3c3c" stroke-width="1"/>
<text x="480.1" y="190.3" font-size="7.6" text-anchor="middle" font-weight="normal" >198</text>
<line x1="501.3" y1="180.0" x2="501.3" y2="177.5" stroke="#3c3c3c" stroke-width="1"/>
<line x1="501.3" y1="37.0" x2="501.3" y2="39.5" stroke="#3c3c3c" stroke-width="1"/>
<line x1="511.9" y1="180.0" x2="511.9" y2="178.5" stroke="#3c3c3c" stroke-width="1"/>
<line x1="511.9" y1="37.0" x2="511.9" y2="38.5" stroke="#3c3c3c" stroke-width="1"/>
<text x="501.3" y="190.3" font-size="7.6" text-anchor="middle" font-weight="normal" >218</text>
<line x1="522.5" y1="180.0" x2="522.5" y2="177.5" stroke="#3c3c3c" stroke-width="1"/>
<line x1="522.5" y1="37.0" x2="522.5" y2="39.5" stroke="#3c3c3c" stroke-width="1"/>
<line x1="533.2" y1="180.0" x2="533.2" y2="178.5" stroke="#3c3c3c" stroke-width="1"/>
<line x1="533.2" y1="37.0" x2="533.2" y2="38.5" stroke="#3c3c3c" stroke-width="1"/>
<text x="522.5" y="190.3" font-size="7.6" text-anchor="middle" font-weight="normal" >239</text>
<line x1="543.8" y1="180.0" x2="543.8" y2="177.5" stroke="#3c3c3c" stroke-width="1"/>
<line x1="543.8" y1="37.0" x2="543.8" y2="39.5" stroke="#3c3c3c" stroke-width="1"/>
<text x="543.8" y="190.3" font-size="7.6" text-anchor="middle" font-weight="normal" >260</text>
<line x1="416.3" y1="108.5" x2="543.8" y2="108.5" stroke="#505050" stroke-width="1.5"/>
<text x="477.1" y="200.8" font-size="9.4" text-anchor="middle" font-weight="normal" letter-spacing="1.05" stroke="none">day of the year</text>
<line x1="543.8" y1="180.0" x2="541.3" y2="180.0" stroke="#3c3c3c" stroke-width="1"/>
<text x="546.3" y="180.3" font-size="7.6" text-anchor="start" font-weight="normal" fill="#222">0</text>
<line x1="543.8" y1="168.1" x2="542.3" y2="168.1" stroke="#3c3c3c" stroke-width="1"/>
<line x1="543.8" y1="156.2" x2="541.3" y2="156.2" stroke="#3c3c3c" stroke-width="1"/>
<text x="546.3" y="159.4" font-size="7.6" text-anchor="start" font-weight="normal" fill="#222">0.5</text>
<line x1="543.8" y1="144.2" x2="542.3" y2="144.2" stroke="#3c3c3c" stroke-width="1"/>
<line x1="543.8" y1="132.3" x2="541.3" y2="132.3" stroke="#3c3c3c" stroke-width="1"/>
<text x="546.3" y="135.5" font-size="7.6" text-anchor="start" font-weight="normal" fill="#222">1.0</text>
<line x1="543.8" y1="120.4" x2="542.3" y2="120.4" stroke="#3c3c3c" stroke-width="1"/>
<line x1="543.8" y1="108.5" x2="541.3" y2="108.5" stroke="#3c3c3c" stroke-width="1"/>
<text x="546.3" y="111.7" font-size="7.6" text-anchor="start" font-weight="normal" fill="#222">1.5</text>
<line x1="543.8" y1="96.6" x2="542.3" y2="96.6" stroke="#3c3c3c" stroke-width="1"/>
<line x1="543.8" y1="84.7" x2="541.3" y2="84.7" stroke="#3c3c3c" stroke-width="1"/>
<text x="546.3" y="87.9" font-size="7.6" text-anchor="start" font-weight="normal" fill="#222">2.0</text>
<line x1="543.8" y1="72.8" x2="542.3" y2="72.8" stroke="#3c3c3c" stroke-width="1"/>
<line x1="543.8" y1="60.8" x2="541.3" y2="60.8" stroke="#3c3c3c" stroke-width="1"/>
<text x="546.3" y="64.0" font-size="7.6" text-anchor="start" font-weight="normal" fill="#222">2.5</text>
<line x1="543.8" y1="48.9" x2="542.3" y2="48.9" stroke="#3c3c3c" stroke-width="1"/>
<line x1="543.8" y1="37.0" x2="541.3" y2="37.0" stroke="#3c3c3c" stroke-width="1"/>
<text x="546.3" y="41.8" font-size="7.6" text-anchor="start" font-weight="normal" fill="#222">3.0</text>
<path d="M559.3,102.9H565.7M563.8,104.8V108.8M559.4,106.9L563.2,105.4M565.7,109.8V113.8M559.3,114.1H565.7" fill="none" stroke="#2a2a2a" stroke-width="1.2"/>
<text x="0" y="0" font-size="9.4" transform="translate(393.8,162.5) rotate(-90)" textLength="22.0" lengthAdjust="spacingAndGlyphs" stroke="none" fill="#2a2a2a">&#916;LAI,</text>
<text x="0" y="0" font-size="9.4" transform="translate(393.8,136.2) rotate(-90)" textLength="23.2" lengthAdjust="spacingAndGlyphs" stroke="none" fill="#2a2a2a">&#916;SAT</text>
<text x="0" y="0" font-size="9.6" transform="translate(393.8,104.2) rotate(-90)" textLength="8.7" lengthAdjust="spacingAndGlyphs" stroke="none" fill="#2a2a2a">or</text>
<text x="0" y="0" font-size="9.6" transform="translate(393.8,88.8) rotate(-90)" textLength="24.2" lengthAdjust="spacingAndGlyphs" stroke="none" fill="#2a2a2a">corr,</text>
<text x="0" y="0" font-size="9.6" transform="translate(393.8,60.6) rotate(-90)" textLength="7.6" lengthAdjust="spacingAndGlyphs" stroke="none" fill="#2a2a2a">%</text>
<text x="0" y="0" font-size="6.2" transform="translate(396.1,112.9) rotate(-90)" textLength="3.2" lengthAdjust="spacingAndGlyphs" stroke="none">z</text>
<text x="477.1" y="33.2" font-size="11.6" text-anchor="middle" font-weight="bold" >iii)</text>
<line x1="415.8" y1="225.5" x2="544.4" y2="225.5" stroke="#383838" stroke-width="1.2"/>
<line x1="416.3" y1="225.0" x2="416.3" y2="369.3" stroke="#5a5a5a" stroke-width="1.1"/>
<line x1="543.8" y1="225.0" x2="543.8" y2="369.3" stroke="#3a3a3a" stroke-width="1.3"/>
<line x1="415.8" y1="368.8" x2="544.4" y2="368.8" stroke="#4a4a4a" stroke-width="1.2"/>
<line x1="416.3" y1="368.8" x2="418.8" y2="368.8" stroke="#3c3c3c" stroke-width="1"/>
<text x="414.0" y="368.4" font-size="7.6" text-anchor="end" font-weight="normal" >&#8722;40</text>
<line x1="416.3" y1="358.6" x2="417.8" y2="358.6" stroke="#3c3c3c" stroke-width="1"/>
<line x1="416.3" y1="348.3" x2="418.8" y2="348.3" stroke="#3c3c3c" stroke-width="1"/>
<text x="414.0" y="351.1" font-size="7.6" text-anchor="end" font-weight="normal" >&#8722;20</text>
<line x1="416.3" y1="338.1" x2="417.8" y2="338.1" stroke="#3c3c3c" stroke-width="1"/>
<line x1="416.3" y1="327.9" x2="418.8" y2="327.9" stroke="#3c3c3c" stroke-width="1"/>
<text x="414.0" y="330.7" font-size="7.6" text-anchor="end" font-weight="normal" >0</text>
<line x1="416.3" y1="317.6" x2="417.8" y2="317.6" stroke="#3c3c3c" stroke-width="1"/>
<line x1="416.3" y1="307.4" x2="418.8" y2="307.4" stroke="#3c3c3c" stroke-width="1"/>
<text x="414.0" y="310.2" font-size="7.6" text-anchor="end" font-weight="normal" >20</text>
<line x1="416.3" y1="297.1" x2="417.8" y2="297.1" stroke="#3c3c3c" stroke-width="1"/>
<line x1="416.3" y1="286.9" x2="418.8" y2="286.9" stroke="#3c3c3c" stroke-width="1"/>
<text x="414.0" y="289.7" font-size="7.6" text-anchor="end" font-weight="normal" >40</text>
<line x1="416.3" y1="276.7" x2="417.8" y2="276.7" stroke="#3c3c3c" stroke-width="1"/>
<line x1="416.3" y1="266.4" x2="418.8" y2="266.4" stroke="#3c3c3c" stroke-width="1"/>
<text x="414.0" y="269.2" font-size="7.6" text-anchor="end" font-weight="normal" >60</text>
<line x1="416.3" y1="256.2" x2="417.8" y2="256.2" stroke="#3c3c3c" stroke-width="1"/>
<line x1="416.3" y1="246.0" x2="418.8" y2="246.0" stroke="#3c3c3c" stroke-width="1"/>
<text x="414.0" y="248.8" font-size="7.6" text-anchor="end" font-weight="normal" >80</text>
<line x1="416.3" y1="235.7" x2="417.8" y2="235.7" stroke="#3c3c3c" stroke-width="1"/>
<line x1="416.3" y1="225.5" x2="418.8" y2="225.5" stroke="#3c3c3c" stroke-width="1"/>
<text x="414.0" y="230.1" font-size="7.6" text-anchor="end" font-weight="normal" >100</text>
<line x1="543.8" y1="368.8" x2="541.3" y2="368.8" stroke="#3c3c3c" stroke-width="1"/>
<line x1="543.8" y1="358.6" x2="542.3" y2="358.6" stroke="#3c3c3c" stroke-width="1"/>
<line x1="543.8" y1="348.3" x2="541.3" y2="348.3" stroke="#3c3c3c" stroke-width="1"/>
<line x1="543.8" y1="338.1" x2="542.3" y2="338.1" stroke="#3c3c3c" stroke-width="1"/>
<line x1="543.8" y1="327.9" x2="541.3" y2="327.9" stroke="#3c3c3c" stroke-width="1"/>
<line x1="543.8" y1="317.6" x2="542.3" y2="317.6" stroke="#3c3c3c" stroke-width="1"/>
<line x1="543.8" y1="307.4" x2="541.3" y2="307.4" stroke="#3c3c3c" stroke-width="1"/>
<line x1="543.8" y1="297.1" x2="542.3" y2="297.1" stroke="#3c3c3c" stroke-width="1"/>
<line x1="543.8" y1="286.9" x2="541.3" y2="286.9" stroke="#3c3c3c" stroke-width="1"/>
<line x1="543.8" y1="276.7" x2="542.3" y2="276.7" stroke="#3c3c3c" stroke-width="1"/>
<line x1="543.8" y1="266.4" x2="541.3" y2="266.4" stroke="#3c3c3c" stroke-width="1"/>
<line x1="543.8" y1="256.2" x2="542.3" y2="256.2" stroke="#3c3c3c" stroke-width="1"/>
<line x1="543.8" y1="246.0" x2="541.3" y2="246.0" stroke="#3c3c3c" stroke-width="1"/>
<line x1="543.8" y1="235.7" x2="542.3" y2="235.7" stroke="#3c3c3c" stroke-width="1"/>
<line x1="543.8" y1="225.5" x2="541.3" y2="225.5" stroke="#3c3c3c" stroke-width="1"/>
<line x1="416.3" y1="368.8" x2="416.3" y2="366.3" stroke="#3c3c3c" stroke-width="1"/>
<line x1="416.3" y1="225.5" x2="416.3" y2="228.0" stroke="#3c3c3c" stroke-width="1"/>
<line x1="429.1" y1="368.8" x2="429.1" y2="367.3" stroke="#3c3c3c" stroke-width="1"/>
<line x1="429.1" y1="225.5" x2="429.1" y2="227.0" stroke="#3c3c3c" stroke-width="1"/>
<text x="416.3" y="379.1" font-size="7.6" text-anchor="middle" font-weight="normal" >135</text>
<line x1="441.8" y1="368.8" x2="441.8" y2="366.3" stroke="#3c3c3c" stroke-width="1"/>
<line x1="441.8" y1="225.5" x2="441.8" y2="228.0" stroke="#3c3c3c" stroke-width="1"/>
<line x1="454.6" y1="368.8" x2="454.6" y2="367.3" stroke="#3c3c3c" stroke-width="1"/>
<line x1="454.6" y1="225.5" x2="454.6" y2="227.0" stroke="#3c3c3c" stroke-width="1"/>
<text x="441.8" y="379.1" font-size="7.6" text-anchor="middle" font-weight="normal" >160</text>
<line x1="467.3" y1="368.8" x2="467.3" y2="366.3" stroke="#3c3c3c" stroke-width="1"/>
<line x1="467.3" y1="225.5" x2="467.3" y2="228.0" stroke="#3c3c3c" stroke-width="1"/>
<line x1="480.1" y1="368.8" x2="480.1" y2="367.3" stroke="#3c3c3c" stroke-width="1"/>
<line x1="480.1" y1="225.5" x2="480.1" y2="227.0" stroke="#3c3c3c" stroke-width="1"/>
<text x="467.3" y="379.1" font-size="7.6" text-anchor="middle" font-weight="normal" >185</text>
<line x1="492.8" y1="368.8" x2="492.8" y2="366.3" stroke="#3c3c3c" stroke-width="1"/>
<line x1="492.8" y1="225.5" x2="492.8" y2="228.0" stroke="#3c3c3c" stroke-width="1"/>
<line x1="505.6" y1="368.8" x2="505.6" y2="367.3" stroke="#3c3c3c" stroke-width="1"/>
<line x1="505.6" y1="225.5" x2="505.6" y2="227.0" stroke="#3c3c3c" stroke-width="1"/>
<text x="492.8" y="379.1" font-size="7.6" text-anchor="middle" font-weight="normal" >210</text>
<line x1="518.3" y1="368.8" x2="518.3" y2="366.3" stroke="#3c3c3c" stroke-width="1"/>
<line x1="518.3" y1="225.5" x2="518.3" y2="228.0" stroke="#3c3c3c" stroke-width="1"/>
<line x1="531.0" y1="368.8" x2="531.0" y2="367.3" stroke="#3c3c3c" stroke-width="1"/>
<line x1="531.0" y1="225.5" x2="531.0" y2="227.0" stroke="#3c3c3c" stroke-width="1"/>
<text x="518.3" y="379.1" font-size="7.6" text-anchor="middle" font-weight="normal" >235</text>
<line x1="543.8" y1="368.8" x2="543.8" y2="366.3" stroke="#3c3c3c" stroke-width="1"/>
<line x1="543.8" y1="225.5" x2="543.8" y2="228.0" stroke="#3c3c3c" stroke-width="1"/>
<text x="543.8" y="379.1" font-size="7.6" text-anchor="middle" font-weight="normal" >260</text>
<line x1="416.3" y1="327.9" x2="543.8" y2="327.9" stroke="#505050" stroke-width="1.5"/>
<text x="477.1" y="389.3" font-size="8.8" text-anchor="middle" font-weight="normal" letter-spacing="0.95" stroke="none">day of the year</text>
<text x="0" y="0" font-size="9.6" transform="translate(396.9,351.0) rotate(-90)" textLength="14.8" lengthAdjust="spacingAndGlyphs" stroke="none" fill="#2a2a2a">pix</text>
<text x="0" y="0" font-size="9.6" transform="translate(396.9,333.5) rotate(-90)" textLength="34.2" lengthAdjust="spacingAndGlyphs" stroke="none" fill="#2a2a2a">portion</text>
<text x="0" y="0" font-size="9.6" transform="translate(396.9,296.8) rotate(-90)" textLength="13.2" lengthAdjust="spacingAndGlyphs" stroke="none" fill="#2a2a2a">w/</text>
<text x="0" y="0" font-size="9.6" transform="translate(396.9,279.6) rotate(-90)" textLength="29.6" lengthAdjust="spacingAndGlyphs" stroke="none" fill="#2a2a2a">p&lt;0.1,</text>
<text x="0" y="0" font-size="9.6" transform="translate(396.9,245.4) rotate(-90)" textLength="7.8" lengthAdjust="spacingAndGlyphs" stroke="none" fill="#2a2a2a">%</text>
<text x="477.1" y="221.7" font-size="11.6" text-anchor="middle" font-weight="bold" >vi)</text>
</g>
<polyline points="69.9,151.5 76.8,150.2 83.9,144.8 90.6,136.8 98.3,128.2 106.9,122.4 113.6,120.5 121.2,120.5 127.0,122.4 136.5,131.6 146.1,140.6 155.1,149.6" fill="none" stroke="#008a00" stroke-width="2.0" stroke-linejoin="round"/>
<polyline points="76.9,78.4 79.6,83.6 82.6,91.2 86.4,94.9 93.1,96.9 105.2,99.4 117.3,101.0 126.5,101.0 130.9,103.0 137.1,105.7 144.4,107.9 149.7,109.3 155.4,112.1" fill="none" stroke="#008a00" stroke-width="2.0" stroke-linejoin="round" stroke-dasharray="2.1,1.6"/>
<polyline points="76.6,87.8 79.6,85.1 85.6,82.9 90.1,83.6 96.2,79.1 100.7,77.6 105.2,78.8 111.2,81.8 118.8,83.9 125.5,88.4" fill="none" stroke="#ff0000" stroke-width="2.0" stroke-linejoin="round" stroke-dasharray="2.1,1.6"/>
<polyline points="77.3,69.3 82.6,67.8 90.9,68.1 97.7,76.1 105.2,83.6 114.2,89.3 126.3,96.2" fill="none" stroke="#8b2d00" stroke-width="2.0" stroke-linejoin="round"/>
<polyline points="259.9,154.0 268.2,145.8 278.7,134.3 289.2,123.4 295.9,118.0 303.6,115.7 310.3,117.1 317.9,121.5 326.5,132.0 336.1,143.5 345.7,155.5" fill="none" stroke="#008a00" stroke-width="2.0" stroke-linejoin="round"/>
<polyline points="254.1,74.6 260.1,73.8 266.1,72.2 270.2,77.2 274.2,86.3 280.2,92.3 288.2,95.3 296.3,98.3 304.2,103.8 310.4,105.6 315.7,107.3 320.9,108.2 327.1,108.7 333.4,109.5 339.7,110.3 344.9,110.8" fill="none" stroke="#008a00" stroke-width="2.0" stroke-linejoin="round" stroke-dasharray="2.1,1.6"/>
<polyline points="255.1,43.1 258.5,39.6 260.5,40.1 262.1,48.1 263.7,58.1 265.7,70.2 269.1,82.3 273.2,90.3 280.2,95.3 288.2,92.3 296.3,94.3 302.1,97.9 309.4,96.7 316.7,99.0" fill="none" stroke="#ff0000" stroke-width="2.0" stroke-linejoin="round" stroke-dasharray="2.1,1.6"/>
<polyline points="253.7,73.8 260.1,70.2 266.1,68.6 273.2,69.2 281.2,72.2 289.2,81.9 295.3,84.3 302.3,90.3 306.3,93.6 310.4,96.2 316.7,97.9" fill="none" stroke="#8b2d00" stroke-width="2.0" stroke-linejoin="round"/>
<polyline points="422.2,129.5 431.9,121.4 441.7,109.3 452.6,93.4 463.6,78.8 474.5,69.1 485.5,65.4 494.0,67.9 502.5,72.7 509.8,80.0 519.6,93.4 528.1,108.0 536.6,122.7" fill="none" stroke="#008a00" stroke-width="2.0" stroke-linejoin="round"/>
<polyline points="422.9,120.7 430.8,118.9 439.3,119.5 449.1,119.2 457.6,117.0 466.1,115.2 475.9,113.1 484.7,112.0 494.5,111.7 505.4,111.7 517.6,112.0 526.1,112.4 535.9,112.9" fill="none" stroke="#008a00" stroke-width="2.0" stroke-linejoin="round" stroke-dasharray="2.1,1.6"/>
<polyline points="423.5,139.0 428.4,134.1 433.3,128.0 438.1,121.9 446.7,119.5 455.2,117.0 463.7,114.6 472.2,112.2 482.3,110.2 490.8,110.5 499.3,110.6 506.7,109.9" fill="none" stroke="#ff0000" stroke-width="2.0" stroke-linejoin="round" stroke-dasharray="2.1,1.6"/>
<polyline points="422.7,84.2 429.5,80.8 436.8,75.9 442.9,75.9 450.2,78.8 458.7,87.3 467.2,98.3 475.0,107.2 479.9,110.8 487.2,113.3 494.5,115.7 501.8,117.3 507.6,117.2" fill="none" stroke="#8b2d00" stroke-width="2.0" stroke-linejoin="round"/>
<polyline points="454.6,147.3 479.3,147.3" fill="none" stroke="#008a00" stroke-width="2.0" stroke-linejoin="round"/>
<text x="484.7" y="149.60000000000002" font-size="7.9" letter-spacing="-0.1" fill="#222">LAI</text>
<polyline points="454.6,154.2 479.3,154.2" fill="none" stroke="#008a00" stroke-width="2.0" stroke-linejoin="round" stroke-dasharray="2.1,1.6"/>
<text x="484.7" y="156.5" font-size="7.9" letter-spacing="-0.1" fill="#222">&#916;LAI</text>
<polyline points="454.6,162.8 479.3,162.8" fill="none" stroke="#ff0000" stroke-width="2.0" stroke-linejoin="round" stroke-dasharray="2.1,1.6"/>
<text x="484.7" y="165.10000000000002" font-size="7.9" letter-spacing="-0.1" fill="#222">&#916;SAT<tspan font-size="5" dy="1.5">z</tspan></text>
<polyline points="454.6,169.8 479.3,169.8" fill="none" stroke="#8b2d00" stroke-width="2.0" stroke-linejoin="round"/>
<text x="484.7" y="172.10000000000002" font-size="7.9" letter-spacing="0.12" fill="#222">corr(LAI,SAT<tspan font-size="5" dy="1.5">z</tspan><tspan dy="-1.5">)</tspan></text>
<polyline points="48.3,301.3 55.1,326.9 83.7,326.9 89.8,305.1 97.3,305.1 105.5,255.5 111.9,256.7 119.8,251.5 126.6,256.7" fill="none" stroke="#ff0000" stroke-width="2.0" stroke-linejoin="round"/>
<polyline points="55.1,327.7 62.6,335.2 70.2,331.5 77.7,328.9 92.8,329.2 100.0,330.7 110.1,331.5 122.2,333.0 137.2,333.4 147.8,334.5 155.3,339.0" fill="none" stroke="#008a00" stroke-width="2.0" stroke-linejoin="round"/>
<polyline points="55.1,326.9 63.4,317.9 70.2,315.6 76.9,310.4 84.5,320.2 91.3,317.1 100.0,309.6 110.1,306.6 125.2,305.1 134.2,307.3 144.8,314.1 155.3,319.4" fill="none" stroke="#008a00" stroke-width="2.0" stroke-linejoin="round"/>
<polyline points="61.1,327.2 69.4,339.0 76.2,329.2 83.0,327.7 120.6,328.2 126.7,331.5" fill="none" stroke="#8b2d00" stroke-width="2.0" stroke-linejoin="round"/>
<polyline points="55.1,327.9 126.7,327.9" fill="none" stroke="#8b0000" stroke-width="2.0" stroke-linejoin="round"/>
<polyline points="62.6,327.7 70.0,262.3 76.4,269.8 84.3,239.2 91.1,244.2 98.3,276.5 104.0,280.4 109.6,288.3 119.1,311.9 126.7,296.8" fill="none" stroke="#8b2d00" stroke-width="2.0" stroke-linejoin="round"/>
<polyline points="238.9,327.6 246.2,329.8 257.6,330.6 273.9,329.8 285.0,331.3 295.6,333.0 302.6,335.7 309.6,338.7 316.7,340.1 323.7,338.7 331.6,334.8 337.8,336.9 345.7,339.7" fill="none" stroke="#008a00" stroke-width="2.0" stroke-linejoin="round"/>
<polyline points="238.9,327.3 246.2,304.5 252.7,287.3 260.1,314.3 267.4,302.0 280.5,316.7 289.4,316.9 296.4,282.0 302.6,293.5 310.5,288.7 317.0,302.3" fill="none" stroke="#ff0000" stroke-width="2.0" stroke-linejoin="round"/>
<polyline points="238.9,327.3 246.2,317.5 251.9,317.9 267.4,297.9 273.9,304.5 282.1,306.9 295.6,304.9 302.6,310.2 309.6,312.8 316.7,316.9 323.7,319.8 331.6,312.8 337.8,311.9 345.7,317.2" fill="none" stroke="#008a00" stroke-width="2.0" stroke-linejoin="round"/>
<polyline points="250.0,328.0 260.1,331.4 270.0,328.0" fill="none" stroke="#ff0000" stroke-width="2.0" stroke-linejoin="round"/>
<polyline points="238.9,327.9 316.7,327.9" fill="none" stroke="#8b0000" stroke-width="2.0" stroke-linejoin="round"/>
<polyline points="285.0,329.9 302.6,330.9 309.6,332.7 316.7,332.7" fill="none" stroke="#8b2d00" stroke-width="2.0" stroke-linejoin="round"/>
<polyline points="246.2,327.3 251.4,305.0 259.7,282.7 267.2,262.3 274.8,255.6 281.6,258.6 288.4,278.2 294.0,286.0 302.6,304.0 309.6,308.4 316.7,311.6" fill="none" stroke="#8b2d00" stroke-width="2.0" stroke-linejoin="round"/>
<polyline points="422.2,346.1 429.7,342.5 437.6,342.7 448.9,344.7 458.0,347.7 464.7,345.4 473.8,340.2 482.8,338.2 494.1,338.6 507.7,340.9 521.3,337.5 536.0,337.9" fill="none" stroke="#008a00" stroke-width="2.0" stroke-linejoin="round"/>
<polyline points="422.2,318.3 428.6,319.4 436.5,319.4 448.9,314.9 463.6,309.2 473.8,308.1 485.1,309.2 494.1,311.5 505.4,311.9 516.7,314.9 536.0,319.4" fill="none" stroke="#008a00" stroke-width="2.0" stroke-linejoin="round"/>
<polyline points="422.2,336.3 428.6,329.6" fill="none" stroke="#ff0000" stroke-width="2.0" stroke-linejoin="round"/>
<polyline points="422.2,327.9 507.7,327.9" fill="none" stroke="#8b0000" stroke-width="2.0" stroke-linejoin="round"/>
<polyline points="422.2,330.7 437.6,329.6 458.0,328.4 469.3,333.0 479.4,336.3 486.2,334.8 494.1,337.0 507.7,337.9" fill="none" stroke="#8b2d00" stroke-width="2.0" stroke-linejoin="round"/>
<polyline points="422.2,283.8 429.7,276.5 436.5,265.2 442.6,263.0 451.2,271.3 459.1,284.9 465.9,302.4 471.5,313.7 479.4,321.2 489.6,323.5 500.9,325.0 507.7,325.0" fill="none" stroke="#8b2d00" stroke-width="2.0" stroke-linejoin="round"/>
<polyline points="482.9,237.7 501.1,237.7" fill="none" stroke="#008a00" stroke-width="2.0" stroke-linejoin="round"/>
<text x="505" y="240.0" font-size="7.9" letter-spacing="0.25" fill="#222">&#961;(&#916;LAI)</text>
<polyline points="482.9,245.4 501.1,245.4" fill="none" stroke="#ff0000" stroke-width="2.0" stroke-linejoin="round"/>
<text x="505" y="247.70000000000002" font-size="7.9" letter-spacing="0.25" fill="#222">&#961;(&#916;SAT<tspan font-size="5" dy="1.5">z</tspan><tspan dy="-1.5">)</tspan></text>
<polyline points="482.9,252.7 501.1,252.7" fill="none" stroke="#8b2d00" stroke-width="2.0" stroke-linejoin="round"/>
<text x="505" y="255.0" font-size="7.9" letter-spacing="0.25" fill="#222">&#961;(corr)</text>
</svg>
</body></html>
